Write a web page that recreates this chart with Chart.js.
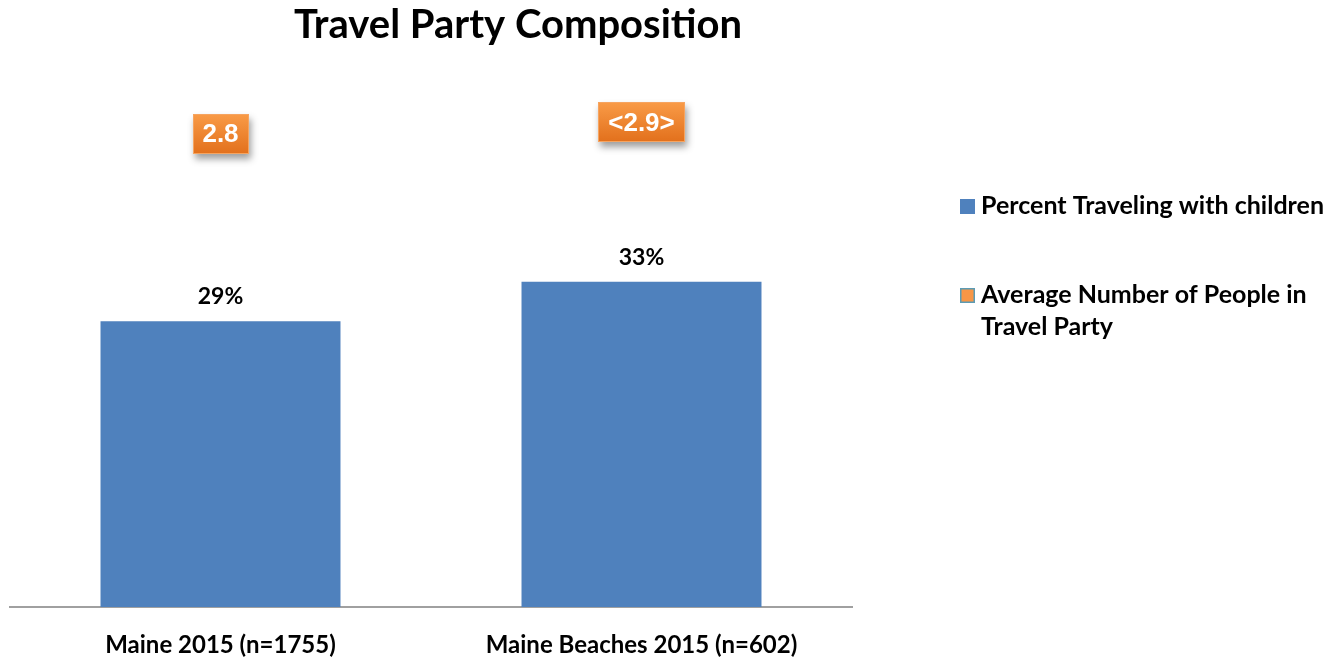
<!DOCTYPE html>
<html>
<head>
<meta charset="utf-8">
<script src="https://cdn.jsdelivr.net/npm/chart.js@4/dist/chart.umd.min.js"></script>
<style>
  html, body { margin: 0; padding: 0; background: #ffffff; }
  #wrap { width: 1331px; height: 657px; position: relative; }
</style>
</head>
<body>
<div id="wrap"><canvas id="chart" width="1331" height="657"></canvas></div>
<script>
// Survey results
const categories = ['Maine 2015 (n=1755)', 'Maine Beaches 2015 (n=602)'];
const pctWithChildren = [29, 33];
const avgPartySize = [2.8, 2.9];
const avgPartyLabels = ['2.8', '<2.9>'];
const seriesNames = ['Percent Traveling with children', 'Average Number of People in Travel Party'];
const chartTitle = 'Travel Party Composition';

const FONT = 'Lato, "Open Sans", sans-serif';
const BLUE = '#4F81BD';
const ORANGE = '#F79646';

// Chart title, centred over the left part of the figure
const titlePlugin = {
  id: 'titleText',
  afterDraw(chart) {
    const ctx = chart.ctx;
    ctx.save();
    ctx.font = 'bold 40px ' + FONT;
    ctx.fillStyle = '#000';
    ctx.textAlign = 'center';
    ctx.textBaseline = 'middle';
    ctx.fillText(chartTitle, 518, 25);
    ctx.restore();
  }
};

// Percent labels above the bars
const barLabelPlugin = {
  id: 'barLabels',
  afterDatasetsDraw(chart) {
    const ctx = chart.ctx;
    const meta = chart.getDatasetMeta(0);
    ctx.save();
    ctx.font = 'bold 23px ' + FONT;
    ctx.fillStyle = '#000';
    ctx.textAlign = 'center';
    ctx.textBaseline = 'alphabetic';
    meta.data.forEach((el, i) => {
      ctx.fillText(chart.data.datasets[0].data[i] + '%', el.x, el.y - 17);
    });
    ctx.restore();
  }
};

// Orange call-out boxes for the average party size
const avgBoxPlugin = {
  id: 'avgBoxes',
  afterDatasetsDraw(chart) {
    const ctx = chart.ctx;
    const meta = chart.getDatasetMeta(1);
    ctx.save();
    ctx.font = 'bold 26px "Liberation Sans", Arial, sans-serif';
    meta.data.forEach((el, i) => {
      const txt = avgPartyLabels[i];
      const tw = ctx.measureText(txt).width;
      const w = Math.round(tw + 20), h = 40;
      const x0 = Math.round(el.x - w / 2), y0 = Math.round(el.y - h / 2);
      ctx.save();
      ctx.shadowColor = 'rgba(0,0,0,0.38)';
      ctx.shadowBlur = 7;
      ctx.shadowOffsetX = 2;
      ctx.shadowOffsetY = 5;
      const g = ctx.createLinearGradient(0, y0, 0, y0 + h);
      g.addColorStop(0, '#F99B47');
      g.addColorStop(1, '#E2701C');
      ctx.fillStyle = g;
      ctx.fillRect(x0, y0, w, h);
      ctx.restore();
      ctx.strokeStyle = '#F6A460';
      ctx.lineWidth = 1;
      ctx.strokeRect(x0 + 0.5, y0 + 0.5, w - 1, h - 1);
      ctx.fillStyle = '#ffffff';
      ctx.textAlign = 'center';
      ctx.textBaseline = 'middle';
      ctx.fillText(txt, el.x, el.y + 1);
    });
    ctx.restore();
  }
};

// Legend on the right, wrapping long names
const sideLegendPlugin = {
  id: 'sideLegend',
  afterDraw(chart) {
    const ctx = chart.ctx;
    const x = 960, textX = 981, maxW = 348, lineH = 32;
    let baseline = 214;
    ctx.save();
    ctx.font = 'bold 25px ' + FONT;
    ctx.textBaseline = 'alphabetic';
    ctx.textAlign = 'left';
    chart.data.datasets.forEach((ds) => {
      const words = ds.label.split(' ');
      const lines = [];
      let cur = '';
      words.forEach(w => {
        const t = cur ? cur + ' ' + w : w;
        if (ctx.measureText(t).width > maxW && cur) { lines.push(cur); cur = w; }
        else cur = t;
      });
      lines.push(cur);
      ctx.fillStyle = ds.legendFill;
      ctx.fillRect(x, baseline - 15, 15, 15);
      if (ds.legendBorder) {
        ctx.strokeStyle = ds.legendBorder;
        ctx.lineWidth = 1.5;
        ctx.strokeRect(x + 0.75, baseline - 14.25, 13.5, 13.5);
      }
      ctx.fillStyle = '#000';
      lines.forEach((ln, k) => ctx.fillText(ln, textX, baseline + k * lineH));
      baseline += 89;
    });
    ctx.restore();
  }
};

new Chart(document.getElementById('chart'), {
  type: 'bar',
  data: {
    labels: categories,
    datasets: [
      {
        label: seriesNames[0],
        data: pctWithChildren,
        backgroundColor: BLUE,
        legendFill: BLUE,
        categoryPercentage: 1,
        barPercentage: 0.57,
        yAxisID: 'y',
        order: 2
      },
      {
        type: 'line',
        label: seriesNames[1],
        data: avgPartySize,
        showLine: false,
        pointRadius: 0,
        borderColor: ORANGE,
        backgroundColor: ORANGE,
        legendFill: ORANGE,
        legendBorder: '#5B9BB4',
        yAxisID: 'y2',
        order: 1
      }
    ]
  },
  options: {
    responsive: false,
    animation: false,
    devicePixelRatio: 1,
    layout: { padding: { left: 10, right: 479, top: 65, bottom: 0 } },
    plugins: {
      legend: { display: false },
      title: { display: false },
      tooltip: { enabled: false }
    },
    scales: {
      x: {
        grid: { display: false, drawTicks: false },
        border: { display: true, color: '#A0A0A0', width: 2 },
        ticks: {
          color: '#000',
          padding: 24,
          font: { family: FONT, size: 24, weight: 'bold' }
        },
        afterFit(scale) { scale.height = 50; }
      },
      y: {
        display: false,
        min: 0,
        max: 55
      },
      y2: {
        display: false,
        min: -1.32,
        max: 3.4
      }
    }
  },
  plugins: [titlePlugin, barLabelPlugin, avgBoxPlugin, sideLegendPlugin]
});
</script>
</body>
</html>
